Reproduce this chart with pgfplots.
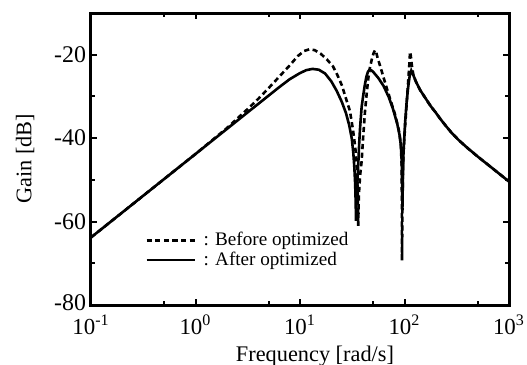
\documentclass[border=0pt]{standalone}
\usepackage{pgfplots}
\pgfplotsset{compat=1.18}
\usepackage{fontspec}
\setmainfont{Liberation Serif}
\begin{document}
\begin{tikzpicture}
\path[use as bounding box] (-45.5bp,-30bp) rectangle (218bp,152.5bp);
\begin{axis}[
  scale only axis,
  width=209bp, height=146bp,
  at={(0,0)}, anchor=south west,
  xmode=log,
  xmin=0.1, xmax=1000, ymin=-80, ymax=-10,
  xtick={0.1,1,10,100,1000},
  xticklabels={10\textsuperscript{-1},10\textsuperscript{0},10\textsuperscript{1},10\textsuperscript{2},10\textsuperscript{3}},
  minor xtick={0.5,5,50,500},
  ytick={-80,-60,-40,-20},
  yticklabels={\raisebox{2bp}{-80},-60,-40,-20},
  minor ytick={-70,-50,-30},
  tick align=inside,
  major tick length=3bp, minor tick length=2.2bp,
  every tick/.style={black, line width=1bp},
  axis line style={line width=1.5bp},
  xticklabel style={font=\fontsize{11.5}{13}\selectfont, yshift=-1.5bp},
  yticklabel style={font=\fontsize{12}{14}\selectfont, xshift=1bp},
  xlabel={Frequency [rad/s]},
  ylabel={Gain [dB]},
  label style={font=\fontsize{11.2}{13}\selectfont},
  xlabel style={xshift=7.5bp, yshift=1bp},
  ylabel style={yshift=3bp},
  legend style={draw=none, fill=none, at={(axis description cs:0.129,0.188)}, anchor=west,
    inner sep=0pt, font=\fontsize{9.6}{11}\selectfont, row sep=0pt, column sep=3bp,
    nodes={inner sep=0.8bp}},
  legend cell align=left,
  legend image code/.code={\draw[#1] (0bp,0bp) -- (24bp,0bp);},
]
\addplot[black, line width=1.3bp, dash pattern=on 2.6bp off 1.7bp] coordinates {
(0.1,-63.8) (0.31623,-53.8) (1,-43.8) (1.9953,-37.6) (3.1623,-33.0) (3.9811,-30.6)
(5.0119,-28.0) (6.3096,-25.3) (7.9433,-22.6) (9.5499,-20.3) (10.965,-19.1) (12.303,-18.7)
(13.804,-18.9) (15.849,-19.8) (18.197,-21.2) (20.701,-22.8) (22.909,-25.0) (25.119,-27.3)
(27.542,-30.5) (30.061,-33.5) (32.137,-38.0) (33.884,-42.5) (35.075,-47.5) (35.645,-53.0)
(36.058,-61.0) (36.475,-55.0) (36.728,-53.0) (37.584,-49.0) (38.905,-45.5) (40.272,-39.5)
(41.879,-33.6) (43.652,-28.8) (45.082,-25.6) (46.774,-23.0) (48.978,-20.8) (50.699,-19.6)
(52.240,-18.9) (53.703,-19.5) (55.590,-21.0) (58.345,-22.6) (63.096,-25.5) (67.608,-28.0)
(74.131,-31.2) (81.096,-34.3) (88.105,-38.0) (92.257,-41.5) (93.756,-46.0) (94.406,-55.0)
(94.624,-69.3) (95.499,-58.0) (96.605,-48.0) (97.499,-43.9) (101.16,-37.5) (104.71,-32.0)
(108.39,-26.5) (111.17,-22.5) (112.98,-19.3) (114.82,-20.2) (117.49,-22.5) (121.62,-24.9)
(128.82,-26.5) (140.60,-28.4) (158.49,-30.4) (177.83,-32.3) (199.53,-33.9) (218.78,-35.3)
(251.19,-37.2) (281.84,-38.7) (331.13,-40.5) (398.11,-42.3) (501.19,-44.4) (630.96,-46.4)
(794.33,-48.4) (1000,-50.4)
};
\addlegendentry{: Before optimized}
\addplot[black, line width=1.3bp] coordinates {
(0.1,-63.8) (0.31623,-53.8) (1,-43.8) (1.9953,-37.8) (3.1623,-33.8) (3.9811,-31.8)
(5.0119,-29.8) (6.3096,-27.8) (7.9433,-25.9) (10,-24.4) (11.482,-23.7) (13.183,-23.4)
(15.136,-23.6) (17.378,-24.5) (19.953,-26.4) (22.387,-28.6) (25.119,-31.3) (27.542,-34.0)
(29.512,-36.8) (31.261,-40.0) (32.359,-43.5) (33.113,-47.0) (33.729,-51.0) (34.119,-55.5)
(34.356,-59.8) (34.674,-56.0) (35.156,-52.0) (35.481,-50.0) (36.141,-46.0) (36.897,-41.0)
(37.584,-37.5) (38.905,-32.5) (40.365,-29.6) (41.687,-27.3) (43.152,-25.3) (44.668,-24.1)
(46.238,-23.6) (47.863,-23.7) (50.119,-24.1) (56.234,-25.6) (63.096,-27.5) (70.795,-30.2)
(77.625,-33.0) (85.114,-36.5) (90.157,-39.5) (92.897,-42.5) (94.406,-47.0) (95.499,-57.0)
(96.605,-49.0) (97.724,-43.8) (101.16,-36.5) (104.71,-31.5) (108.39,-27.8) (112.20,-25.0)
(116.14,-23.8) (120.23,-24.6) (128.82,-26.5) (140.60,-28.4) (158.49,-30.4) (177.83,-32.3)
(199.53,-33.9) (218.78,-35.3) (251.19,-37.2) (281.84,-38.7) (331.13,-40.5) (398.11,-42.3)
(501.19,-44.4) (630.96,-46.4) (794.33,-48.4) (1000,-50.4)
};
\addlegendentry{: After optimized}
\end{axis}
\end{tikzpicture}
\end{document}
